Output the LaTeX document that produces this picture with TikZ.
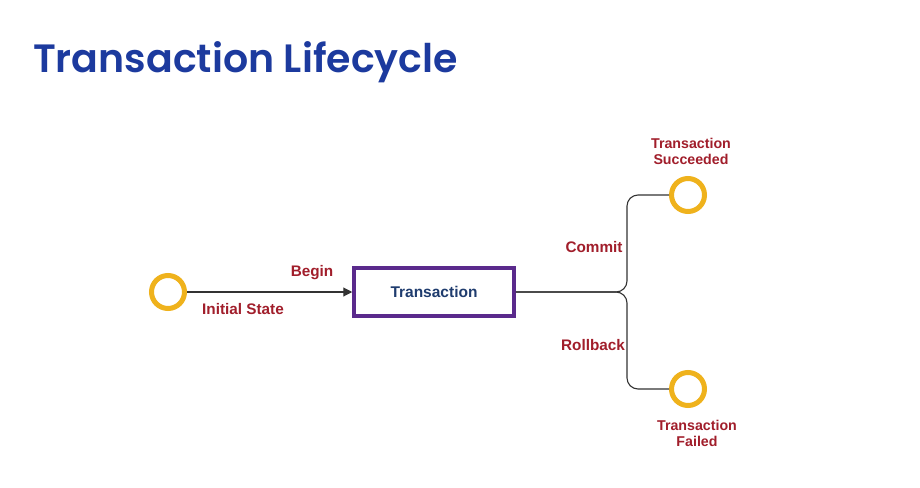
\documentclass[tikz,border=0pt]{standalone}
\usepackage{fontspec}
\setmainfont{Liberation Sans}
\newfontfamily\titlefont{Poppins SemiBold}
\usetikzlibrary{arrows.meta}
\definecolor{titleblue}{HTML}{1C3A9E}
\definecolor{ringorange}{HTML}{EFB21C}
\definecolor{labelred}{HTML}{A11E2B}
\definecolor{boxpurple}{HTML}{5A2A8C}
\definecolor{boxtext}{HTML}{1F3C6E}
\definecolor{wire}{HTML}{333333}
\tikzset{
  state/.style={circle, draw=ringorange, line width=5pt, fill=white, minimum size=33pt, inner sep=0pt},
  lbl/.style={text=labelred, font=\bfseries\fontsize{15.3}{17}\selectfont, inner sep=0pt, align=center},
  endlbl/.style={text=labelred, font=\bfseries\fontsize{14.2}{16}\selectfont, inner sep=0pt, align=center},
  txbox/.style={draw=boxpurple, line width=3.5pt, fill=white, minimum width=160pt, minimum height=48pt, text=boxtext, font=\bfseries\fontsize{15.5}{17}\selectfont},
  wireline/.style={draw=wire, line width=1.1pt}
}
\begin{document}
\begin{tikzpicture}[x=1pt,y=-1pt]
\useasboundingbox[fill=white] (0,0) rectangle (920,487);
% heading
\node[anchor=base west, inner sep=0pt, text=titleblue, font=\titlefont\fontsize{39.5}{46}\selectfont] (title) at (33,72) {Transaction Lifecycle};
% states and the transaction box
\node[state] (init) at (168,292) {};
\node[txbox] (tx) at (434,292) {Transaction};
\node[state] (ok) at (688,195) {};
\node[state] (bad) at (688,389) {};
\coordinate (fork) at (627,292);
% connectors
\draw[wireline, -{Triangle[length=9pt,width=9pt]}] (init) -- (tx);
\draw[wireline, rounded corners=11pt] (tx.east) -- (fork) |- (ok);
\draw[wireline, rounded corners=11pt] (tx.east) -- (fork) |- (bad);
% labels
\node[lbl] (lbegin) at (312,273) {Begin};
\node[lbl] (linit) at (243,309) {Initial State};
\node[lbl] (lcommit) at (594,247) {Commit};
\node[lbl] (lroll) at (593,345) {Rollback};
\node[endlbl] (lok) at (691,151) {Transaction\\Succeeded};
\node[endlbl] (lbad) at (697,433) {Transaction\\Failed};
\end{tikzpicture}
\end{document}
